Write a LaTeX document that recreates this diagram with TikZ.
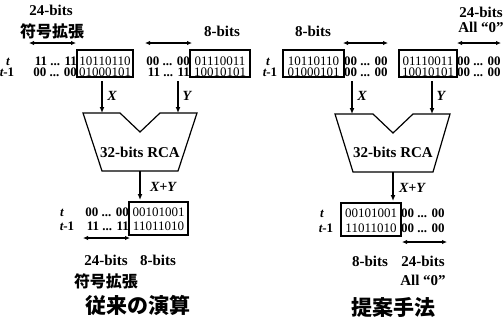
\documentclass[tikz,border=0pt]{standalone}
\usepackage{fontspec}
\setmainfont{Liberation Serif}
\newfontfamily\cjk{Noto Sans CJK JP}
\usetikzlibrary{arrows.meta}
\begin{document}
\begin{tikzpicture}[x=1pt,y=-1pt,
 lbl/.style={font=\fontsize{15}{15}\selectfont\bfseries, inner sep=0},
 jp/.style={font=\fontsize{16}{16}\selectfont\cjk\bfseries, inner sep=0},
 ttl/.style={font=\fontsize{21}{21}\selectfont\cjk\bfseries, inner sep=0},
 rowtxt/.style={font=\fontsize{13}{13}\selectfont\bfseries, inner sep=0, text height=9pt, text depth=0pt},
 bits/.style={font=\fontsize{13}{13}\selectfont, inner sep=0, text height=9pt, text depth=0pt},
 tl/.style={font=\fontsize{13}{13}\selectfont\bfseries, inner sep=0, text height=9pt, text depth=0pt},
 bbox/.style={draw, line width=1.4pt, inner sep=0},
 dim/.style={{Latex[length=5pt,width=4.5pt]}-{Latex[length=5pt,width=4.5pt]}, line width=1.4pt},
 flow/.style={-{Latex[length=6pt,width=5pt]}, line width=1.4pt},
 adder/.style={draw, line width=1.2pt, line join=miter},
 var/.style={font=\fontsize{14}{14}\selectfont\bfseries\itshape, inner sep=0},
 rca/.style={font=\fontsize{15}{15}\selectfont\bfseries, inner sep=0}
]
\fill[white] (0,0) rectangle (504,322);
\useasboundingbox (0,0) rectangle (504,322);

% ================= LEFT (conventional) =================
\node[lbl] (L24) at (51,10) {24-bits};
\node[jp] (Lsx) at (52,31) {符号拡張};
\node[lbl] (L8) at (222,31) {8-bits};
\coordinate (La1) at (29,43); \coordinate (La2) at (76,43);
\draw[dim] (La1) -- (La2);
\coordinate (La3) at (145,43); \coordinate (La4) at (192,43);
\draw[dim] (La3) -- (La4);

\node[tl] (Lt) at (8,60.5) {\itshape t};
\node[tl] (Lt1) at (7,72) {{\itshape t}-1};
\node[rowtxt, anchor=east] (Lh1) at (77,60.5) {11 ... 11};
\node[rowtxt, anchor=east] (Lh2) at (77,72) {00 ... 00};
\node[bbox, minimum width=56pt, minimum height=27pt] (LXbox) at (105,63.5) {};
\node[bits] (LX1) at (105,60.5) {10110110};
\node[bits] (LX2) at (105,72) {01000101};

\node[rowtxt, anchor=east] (Lh3) at (190,60.5) {00 ... 00};
\node[rowtxt, anchor=east] (Lh4) at (190,72) {11 ... 11};
\node[bbox, minimum width=60pt, minimum height=27pt] (LYbox) at (220,63.5) {};
\node[bits] (LY1) at (220,60.5) {01110011};
\node[bits] (LY2) at (220,72) {10010101};

\coordinate (LXs) at (102,81); \coordinate (LXe) at (102,113);
\coordinate (LYs) at (178,81); \coordinate (LYe) at (178,113);
\draw[flow] (LXs) -- (LXe);
\draw[flow] (LYs) -- (LYe);
\node[var] (LXl) at (112,96) {X};
\node[var] (LYl) at (187,96) {Y};

\draw[adder] (83,113) -- (120,113) -- (140,132) -- (160,113) -- (197,113)
  -- (178,171) -- (102,171) -- cycle;
\node[rca] (Lrca) at (140,152) {32-bits RCA};

\coordinate (LOs) at (140,171); \coordinate (LOe) at (140,200);
\draw[flow] (LOs) -- (LOe);
\node[var] (LOl) at (163,187) {X+Y};

\node[tl] (Lbt) at (62,212) {\itshape t};
\node[tl] (Lbt1) at (67,226) {{\itshape t}-1};
\node[rowtxt, anchor=east] (Lbh1) at (129,212) {00 ... 00};
\node[rowtxt, anchor=east] (Lbh2) at (129,226) {11 ... 11};
\node[bbox, minimum width=59pt, minimum height=33pt] (LSbox) at (158.5,218.5) {};
\node[bits] (LS1) at (158.5,212) {00101001};
\node[bits] (LS2) at (158.5,226) {11011010};
\coordinate (Lb1) at (83,238); \coordinate (Lb2) at (130,238);
\draw[dim] (Lb1) -- (Lb2);
\node[lbl] (Lb24) at (106,260) {24-bits};
\node[lbl] (Lb8) at (158,260) {8-bits};
\node[jp] (Lbsx) at (106,281) {符号拡張};
\node[ttl] (Ltitle) at (138,305) {従来の演算};

% ================= RIGHT (proposed) =================
\node[lbl] (R8) at (313,31) {8-bits};
\node[lbl] (R24) at (481,12) {24-bits};
\node[lbl] (R0) at (481,27) {All ``0''};
\coordinate (Ra1) at (343,43); \coordinate (Ra2) at (388,43);
\draw[dim] (Ra1) -- (Ra2);
\coordinate (Ra3) at (457,43); \coordinate (Ra4) at (501,43);
\draw[dim] (Ra3) -- (Ra4);

\node[tl] (Rt) at (268,60.5) {\itshape t};
\node[tl] (Rt1) at (270,72) {{\itshape t}-1};
\node[bbox, minimum width=61pt, minimum height=27pt] (RXbox) at (313.5,63.5) {};
\node[bits] (RX1) at (313.5,60.5) {10110110};
\node[bits] (RX2) at (313.5,72) {01000101};
\node[rowtxt, anchor=west] (Rh1) at (344,60.5) {00 ... 00};
\node[rowtxt, anchor=west] (Rh2) at (344,72) {00 ... 00};
\node[bbox, minimum width=58pt, minimum height=27pt] (RYbox) at (428,63.5) {};
\node[bits] (RY1) at (428,60.5) {01110011};
\node[bits] (RY2) at (428,72) {10010101};
\node[rowtxt, anchor=west] (Rh3) at (457,60.5) {00 ... 00};
\node[rowtxt, anchor=west] (Rh4) at (457,72) {00 ... 00};

\coordinate (RXs) at (352,81); \coordinate (RXe) at (352,114);
\coordinate (RYs) at (432,81); \coordinate (RYe) at (432,114);
\draw[flow] (RXs) -- (RXe);
\draw[flow] (RYs) -- (RYe);
\node[var] (RXl) at (362,96) {X};
\node[var] (RYl) at (441,96) {Y};

\draw[adder] (335,114) -- (373,114) -- (393,133) -- (413,114) -- (450,114)
  -- (433,172) -- (353,172) -- cycle;
\node[rca] (Rrca) at (393,152) {32-bits RCA};

\coordinate (ROs) at (393,172); \coordinate (ROe) at (393,201);
\draw[flow] (ROs) -- (ROe);
\node[var] (ROl) at (412,188) {X+Y};

\node[tl] (Rbt) at (322,212.5) {\itshape t};
\node[tl] (Rbt1) at (326,227.5) {{\itshape t}-1};
\node[bbox, minimum width=60pt, minimum height=33pt] (RSbox) at (371,219.5) {};
\node[bits] (RS1) at (371,212.5) {00101001};
\node[bits] (RS2) at (371,227.5) {11011010};
\node[rowtxt, anchor=west] (Rbh1) at (401,212.5) {00 ... 00};
\node[rowtxt, anchor=west] (Rbh2) at (401,227.5) {00 ... 00};
\coordinate (Rb1) at (402,242); \coordinate (Rb2) at (447,242);
\draw[dim] (Rb1) -- (Rb2);
\node[lbl] (Rb8) at (370,261) {8-bits};
\node[lbl] (Rb24) at (423,261) {24-bits};
\node[lbl] (Rb0) at (423,280) {All ``0''};
\node[ttl] (Rtitle) at (393,307) {提案手法};
\end{tikzpicture}
\end{document}
